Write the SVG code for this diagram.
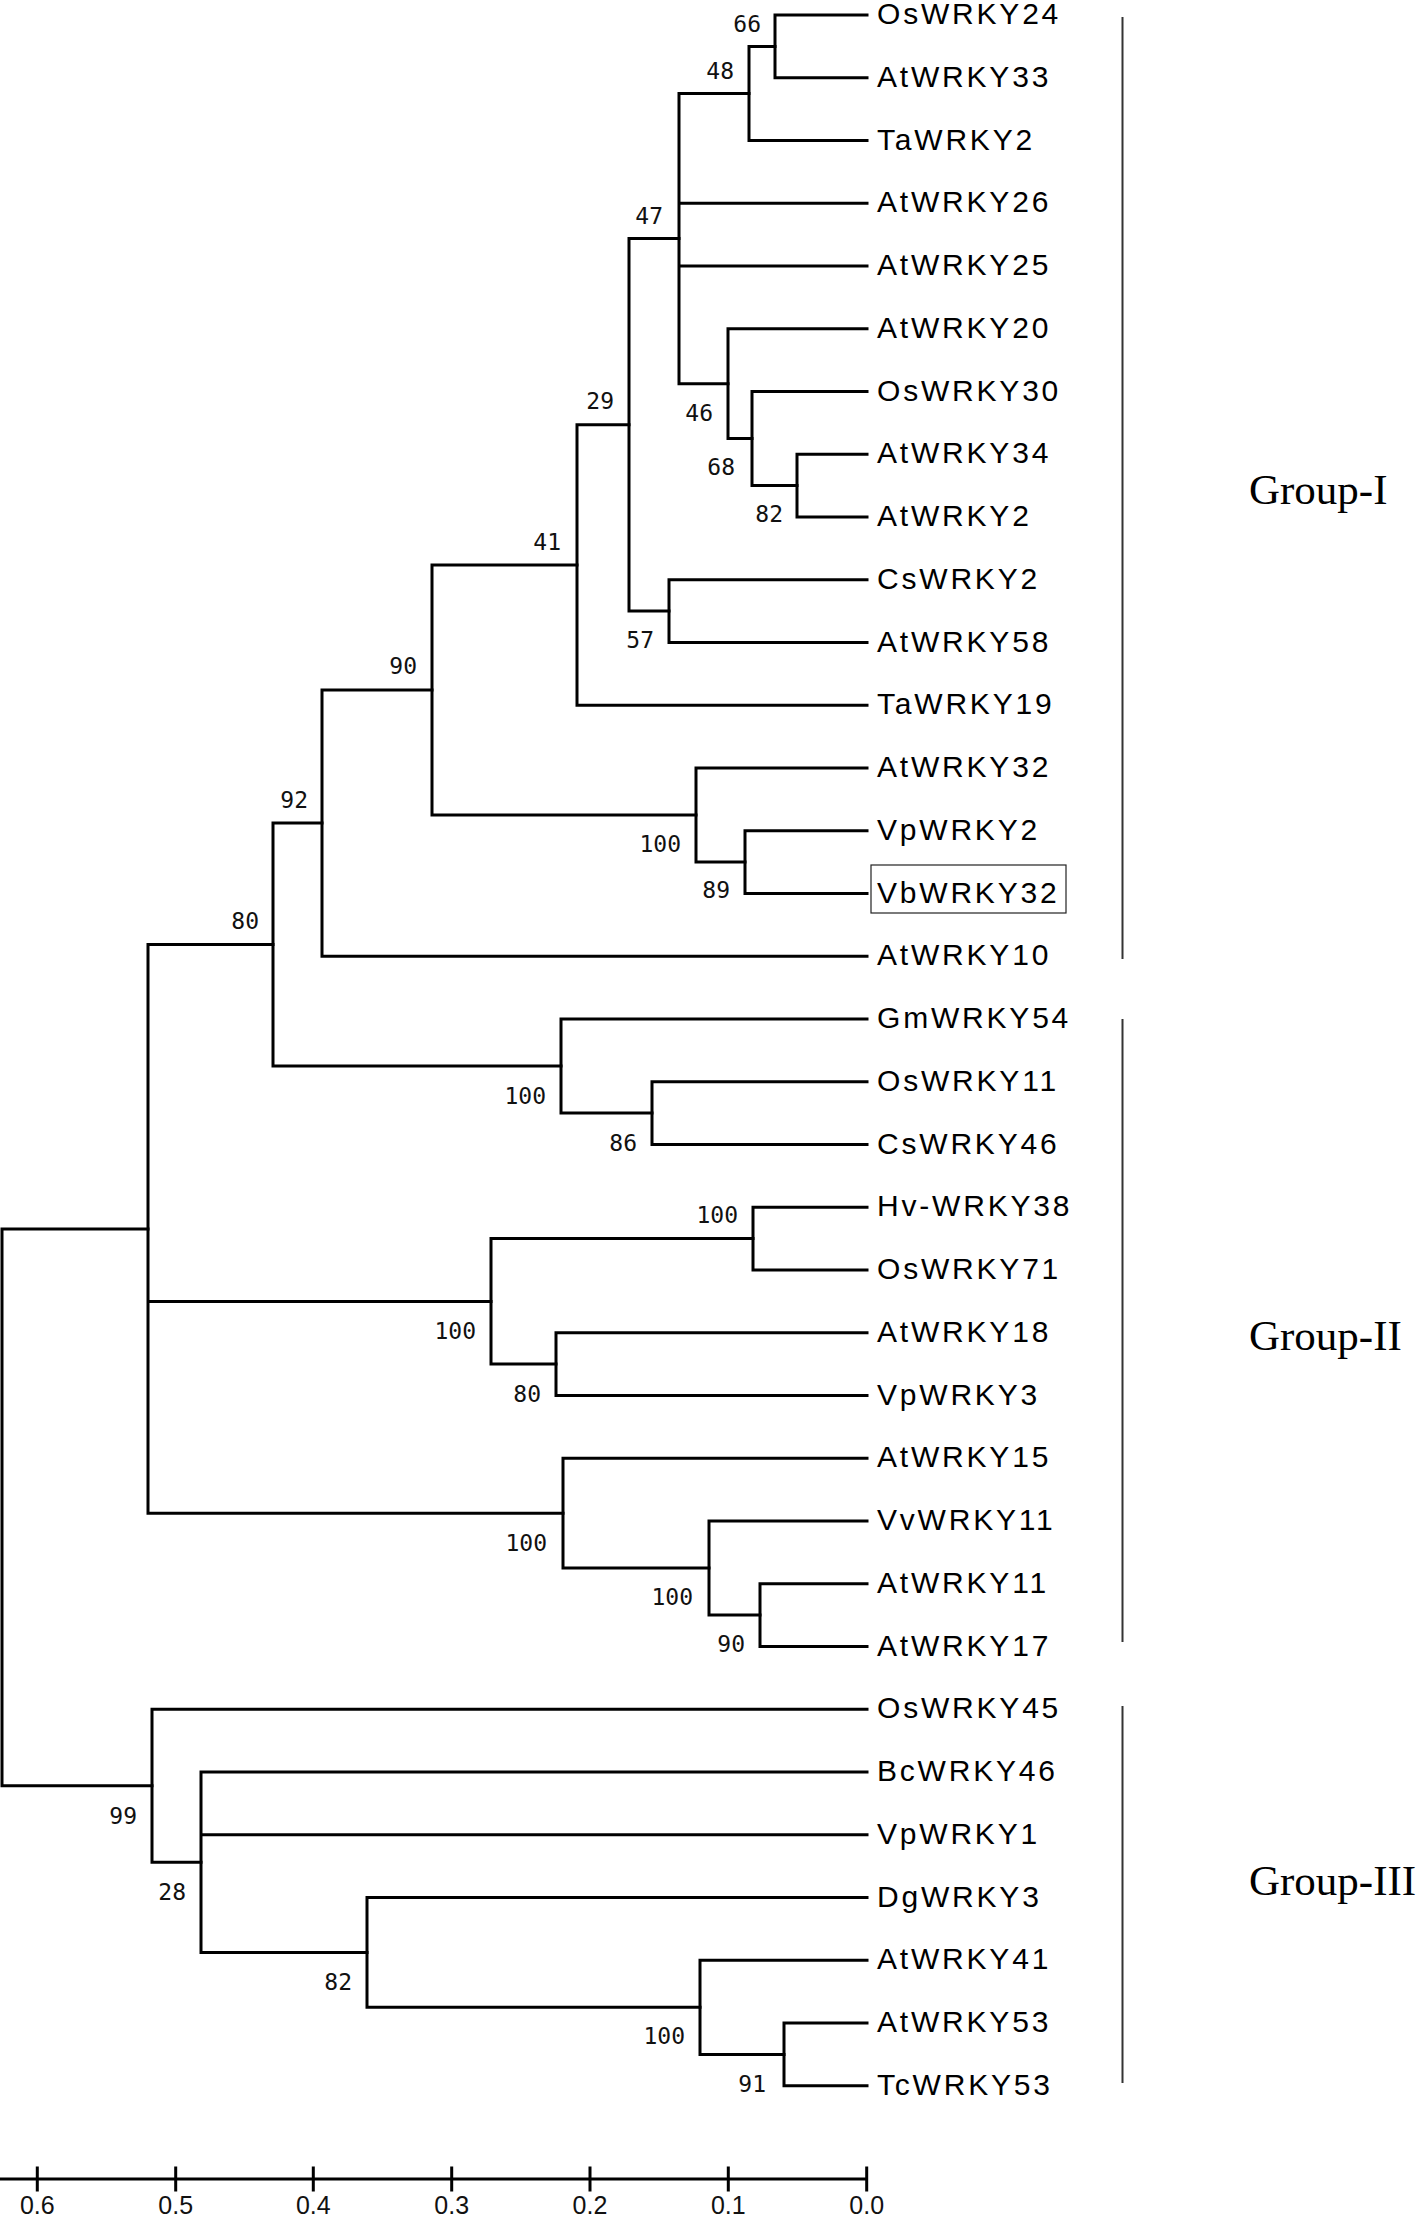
<svg xmlns="http://www.w3.org/2000/svg" width="1417" height="2218" viewBox="0 0 1417 2218">
<style>
.br{fill:none;stroke:#000;stroke-width:3;stroke-linecap:square}
.leaf{font-family:"Liberation Sans",Arial,sans-serif;font-size:30px;letter-spacing:2.8px;fill:#000}
.bs{font-family:"DejaVu Sans Mono",monospace;font-size:23px;fill:#111;text-anchor:end}
.ax{font-family:"Liberation Sans",Arial,sans-serif;font-size:25px;fill:#111;text-anchor:middle}
.grp{font-family:"Liberation Serif","Times New Roman",serif;font-size:43px;fill:#000}
.bar{stroke:#333;stroke-width:2}
</style>
<rect width="1417" height="2218" fill="#fff"/>
<g id="connectors">
<path class="br" d="M775,15 V77.75 M775,15 H867 M775,77.75 H867"/>
<path class="br" d="M749,46.4 V140.5 H867 M749,46.4 H775"/>
<path class="br" d="M797,454.25 V517 H867 M797,454.25 H867"/>
<path class="br" d="M752,391.5 V485.6 H797 M752,391.5 H867"/>
<path class="br" d="M728,328.75 V438.6 H752 M728,328.75 H867"/>
<path class="br" d="M679,93.4 V383.7 H728 M679,93.4 H749 M679,203.25 H867 M679,266 H867"/>
<path class="br" d="M669,579.75 V642.5 H867 M669,579.75 H867"/>
<path class="br" d="M629,238.6 V611.1 H669 M629,238.6 H679"/>
<path class="br" d="M577,424.8 V705.25 H867 M577,424.8 H629"/>
<path class="br" d="M745,830.75 V893.5 H867 M745,830.75 H867"/>
<path class="br" d="M696,768 V862.1 H745 M696,768 H867"/>
<path class="br" d="M432,565 V815.1 H696 M432,565 H577"/>
<path class="br" d="M322,690 V956.25 H867 M322,690 H432"/>
<path class="br" d="M652,1081.75 V1144.5 H867 M652,1081.75 H867"/>
<path class="br" d="M561,1019 V1113.1 H652 M561,1019 H867"/>
<path class="br" d="M273,823.1 V1066.1 H561 M273,823.1 H322"/>
<path class="br" d="M753,1207.25 V1270 H867 M753,1207.25 H867"/>
<path class="br" d="M556,1332.75 V1395.5 H867 M556,1332.75 H867"/>
<path class="br" d="M491,1238.6 V1364.1 H556 M491,1238.6 H753"/>
<path class="br" d="M760,1583.75 V1646.5 H867 M760,1583.75 H867"/>
<path class="br" d="M709,1521 V1615.1 H760 M709,1521 H867"/>
<path class="br" d="M563,1458.25 V1568.1 H709 M563,1458.25 H867"/>
<path class="br" d="M148,944.6 V1513.2 H563 M148,944.6 H273 M148,1301.4 H491"/>
<path class="br" d="M784,2023 V2085.75 H867 M784,2023 H867"/>
<path class="br" d="M700,1960.25 V2054.4 H784 M700,1960.25 H867"/>
<path class="br" d="M367,1897.5 V2007.3 H700 M367,1897.5 H867"/>
<path class="br" d="M201,1772 V1952.4 H367 M201,1772 H867 M201,1834.75 H867"/>
<path class="br" d="M152,1709.25 V1862.2 H201 M152,1709.25 H867"/>
<path class="br" d="M2,1228.9 V1785.7 H152 M2,1228.9 H148"/>
</g>
<g id="leaves">
<g id="leaf-OsWRKY24"><text class="leaf" x="877" y="24">OsWRKY24</text></g>
<g id="leaf-AtWRKY33"><text class="leaf" x="877" y="86.75">AtWRKY33</text></g>
<g id="leaf-TaWRKY2"><text class="leaf" x="877" y="149.5">TaWRKY2</text></g>
<g id="leaf-AtWRKY26"><text class="leaf" x="877" y="212.25">AtWRKY26</text></g>
<g id="leaf-AtWRKY25"><text class="leaf" x="877" y="275">AtWRKY25</text></g>
<g id="leaf-AtWRKY20"><text class="leaf" x="877" y="337.75">AtWRKY20</text></g>
<g id="leaf-OsWRKY30"><text class="leaf" x="877" y="400.5">OsWRKY30</text></g>
<g id="leaf-AtWRKY34"><text class="leaf" x="877" y="463.25">AtWRKY34</text></g>
<g id="leaf-AtWRKY2"><text class="leaf" x="877" y="526">AtWRKY2</text></g>
<g id="leaf-CsWRKY2"><text class="leaf" x="877" y="588.75">CsWRKY2</text></g>
<g id="leaf-AtWRKY58"><text class="leaf" x="877" y="651.5">AtWRKY58</text></g>
<g id="leaf-TaWRKY19"><text class="leaf" x="877" y="714.25">TaWRKY19</text></g>
<g id="leaf-AtWRKY32"><text class="leaf" x="877" y="777">AtWRKY32</text></g>
<g id="leaf-VpWRKY2"><text class="leaf" x="877" y="839.75">VpWRKY2</text></g>
<g id="leaf-VbWRKY32"><rect x="871" y="865" width="195" height="48" fill="none" stroke="#222" stroke-width="1.2"/><text class="leaf" x="877" y="902.5">VbWRKY32</text></g>
<g id="leaf-AtWRKY10"><text class="leaf" x="877" y="965.25">AtWRKY10</text></g>
<g id="leaf-GmWRKY54"><text class="leaf" x="877" y="1028">GmWRKY54</text></g>
<g id="leaf-OsWRKY11"><text class="leaf" x="877" y="1090.75">OsWRKY11</text></g>
<g id="leaf-CsWRKY46"><text class="leaf" x="877" y="1153.5">CsWRKY46</text></g>
<g id="leaf-Hv-WRKY38"><text class="leaf" x="877" y="1216.25">Hv-WRKY38</text></g>
<g id="leaf-OsWRKY71"><text class="leaf" x="877" y="1279">OsWRKY71</text></g>
<g id="leaf-AtWRKY18"><text class="leaf" x="877" y="1341.75">AtWRKY18</text></g>
<g id="leaf-VpWRKY3"><text class="leaf" x="877" y="1404.5">VpWRKY3</text></g>
<g id="leaf-AtWRKY15"><text class="leaf" x="877" y="1467.25">AtWRKY15</text></g>
<g id="leaf-VvWRKY11"><text class="leaf" x="877" y="1530">VvWRKY11</text></g>
<g id="leaf-AtWRKY11"><text class="leaf" x="877" y="1592.75">AtWRKY11</text></g>
<g id="leaf-AtWRKY17"><text class="leaf" x="877" y="1655.5">AtWRKY17</text></g>
<g id="leaf-OsWRKY45"><text class="leaf" x="877" y="1718.25">OsWRKY45</text></g>
<g id="leaf-BcWRKY46"><text class="leaf" x="877" y="1781">BcWRKY46</text></g>
<g id="leaf-VpWRKY1"><text class="leaf" x="877" y="1843.75">VpWRKY1</text></g>
<g id="leaf-DgWRKY3"><text class="leaf" x="877" y="1906.5">DgWRKY3</text></g>
<g id="leaf-AtWRKY41"><text class="leaf" x="877" y="1969.25">AtWRKY41</text></g>
<g id="leaf-AtWRKY53"><text class="leaf" x="877" y="2032">AtWRKY53</text></g>
<g id="leaf-TcWRKY53"><text class="leaf" x="877" y="2094.75">TcWRKY53</text></g>
</g>
<g id="bootstrap">
<g id="n66"><text class="bs" x="761" y="31.5">66</text></g>
<g id="n48"><text class="bs" x="734" y="79">48</text></g>
<g id="n47"><text class="bs" x="663" y="224">47</text></g>
<g id="n46"><text class="bs" x="713" y="421">46</text></g>
<g id="n68"><text class="bs" x="735" y="475">68</text></g>
<g id="n29"><text class="bs" x="614" y="409">29</text></g>
<g id="n82a"><text class="bs" x="783" y="522">82</text></g>
<g id="n57"><text class="bs" x="654" y="648">57</text></g>
<g id="n100a"><text class="bs" x="681" y="852">100</text></g>
<g id="n89"><text class="bs" x="730" y="898">89</text></g>
<g id="n41"><text class="bs" x="561" y="550">41</text></g>
<g id="n90a"><text class="bs" x="417" y="674">90</text></g>
<g id="n92"><text class="bs" x="308" y="808">92</text></g>
<g id="n80a"><text class="bs" x="259" y="929">80</text></g>
<g id="n100b"><text class="bs" x="546" y="1104">100</text></g>
<g id="n86"><text class="bs" x="637" y="1151">86</text></g>
<g id="n100c"><text class="bs" x="738" y="1223">100</text></g>
<g id="n100d"><text class="bs" x="476" y="1339">100</text></g>
<g id="n80b"><text class="bs" x="541" y="1402">80</text></g>
<g id="n100e"><text class="bs" x="547" y="1551">100</text></g>
<g id="n100f"><text class="bs" x="693" y="1605">100</text></g>
<g id="n90b"><text class="bs" x="745" y="1652">90</text></g>
<g id="n99"><text class="bs" x="137" y="1824">99</text></g>
<g id="n28"><text class="bs" x="186" y="1900">28</text></g>
<g id="n82b"><text class="bs" x="352" y="1990">82</text></g>
<g id="n100g"><text class="bs" x="685" y="2044">100</text></g>
<g id="n91"><text class="bs" x="766" y="2092">91</text></g>
</g>
<g id="groups">
<g id="group-I"><line class="bar" x1="1122.5" y1="17" x2="1122.5" y2="959"/><text class="grp" x="1249" y="504">Group-I</text></g>
<g id="group-II"><line class="bar" x1="1122.5" y1="1019" x2="1122.5" y2="1642"/><text class="grp" x="1249" y="1350">Group-II</text></g>
<g id="group-III"><line class="bar" x1="1122.5" y1="1706" x2="1122.5" y2="2083"/><text class="grp" x="1249" y="1895">Group-III</text></g>
</g>
<g id="scale-axis">
<path class="br" d="M0,2179 H866.7 M37.3,2168 V2190 M175.7,2168 V2190 M313.3,2168 V2190 M451.7,2168 V2190 M590,2168 V2190 M728.3,2168 V2190 M866.7,2168 V2190" stroke-linecap="butt"/>
<text class="ax" x="37.3" y="2214">0.6</text>
<text class="ax" x="175.7" y="2214">0.5</text>
<text class="ax" x="313.3" y="2214">0.4</text>
<text class="ax" x="451.7" y="2214">0.3</text>
<text class="ax" x="590" y="2214">0.2</text>
<text class="ax" x="728.3" y="2214">0.1</text>
<text class="ax" x="866.7" y="2214">0.0</text>
</g>
</svg>
